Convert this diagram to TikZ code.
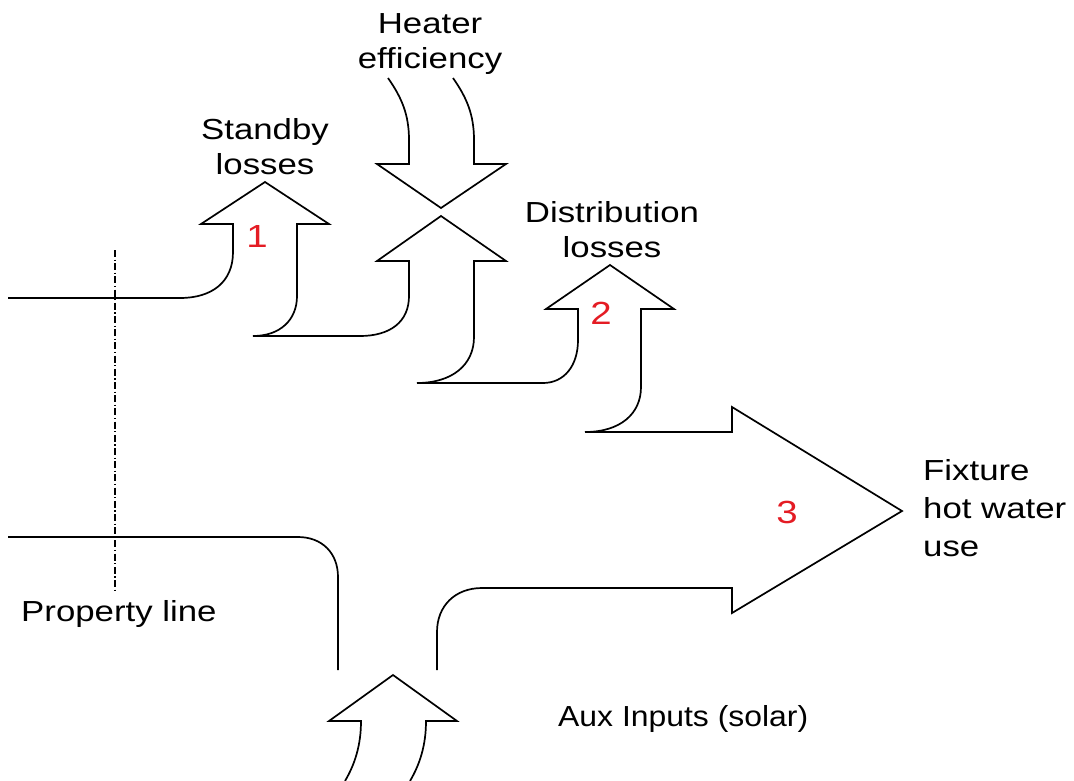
\documentclass[tikz,border=0pt]{standalone}
\usepackage{fontspec}
\setmainfont{Liberation Sans}[FakeStretch=1.2]
\newfontfamily\auxfont{Liberation Sans}[FakeStretch=1.1]
\definecolor{numred}{RGB}{228,28,36}

\begin{document}
\begin{tikzpicture}[x=1pt,y=-1pt,
  flow/.style={line width=1.7pt, line join=miter, line cap=butt},
  propline/.style={line width=1.3pt, dash pattern=on 7pt off 2.5pt on 1.2pt off 2.5pt},
  lbl/.style={inner sep=0pt, align=center, font=\fontsize{29}{35}\selectfont},
  num/.style={inner sep=0pt, text=numred, font=\fontsize{32}{32}\selectfont}]
\useasboundingbox (0,0) rectangle (1074,780);

% main hot water path: supply -> standby -> heater -> distribution -> fixture
\draw[flow] (8,298) -- (180,298)
  .. controls (212,298) and (233,282) .. (233,252) -- (233,224)
  -- (201,224) -- (265,182) -- (329,224) -- (297,224) -- (297,296)
  .. controls (297,320) and (280,336) .. (253,336) -- (360,336)
  .. controls (390,336) and (409,322) .. (409,296) -- (409,261)
  -- (377,261) -- (441,216) -- (506,261) -- (474,261) -- (474,337)
  .. controls (474,365) and (452,383) .. (417,383) -- (543,383)
  .. controls (564,383) and (578,366) .. (578,340) -- (578,309)
  -- (546,309) -- (610,265) -- (674,309) -- (641,309) -- (641,387)
  .. controls (641,414) and (620,432) .. (585,432) -- (732,432)
  -- (732,407) -- (902,511) -- (732,613) -- (732,588) -- (482,588)
  .. controls (455,588) and (437,606) .. (437,632) -- (437,670);

% second supply line
\draw[flow] (8,537) -- (298,537)
  .. controls (322,537) and (338,553) .. (338,577) -- (338,670);

% heater efficiency input (downward arrow)
\draw[flow] (388,78) .. controls (402,98) and (409,115) .. (409,140)
  -- (409,164) -- (377,164) -- (441,208) -- (506,164) -- (474,164)
  -- (474,140) .. controls (474,115) and (467,98) .. (453,78);

% auxiliary (solar) input arrow
\draw[flow] (345,781) .. controls (355,764) and (361,745) .. (361,721)
  -- (329,721) -- (393,675) -- (457,721) -- (426,721)
  .. controls (426,745) and (420,764) .. (410,781);

% property line
\draw[propline] (115,250) -- (115,592);

% labels
\node[lbl, anchor=base] (heater) at (430,68) {Heater\\efficiency};
\node[lbl, anchor=base] (standby) at (265,174) {Standby\\losses};
\node[lbl, anchor=base] (distrib) at (612,257) {Distribution\\losses};
\node[lbl, align=left, anchor=base west, font=\fontsize{29}{38}\selectfont] (fixture) at (923,556) {Fixture\\hot water\\use};
\node[lbl, anchor=base west] (property) at (21,621) {Property line};
\node[lbl, anchor=base west, font=\auxfont\fontsize{29}{35}\selectfont] (aux) at (558,726) {Aux Inputs (solar)};

\node[num] (n1) at (257,236) {1};
\node[num] (n2) at (601,313) {2};
\node[num] (n3) at (787,512) {3};
\end{tikzpicture}
\end{document}
